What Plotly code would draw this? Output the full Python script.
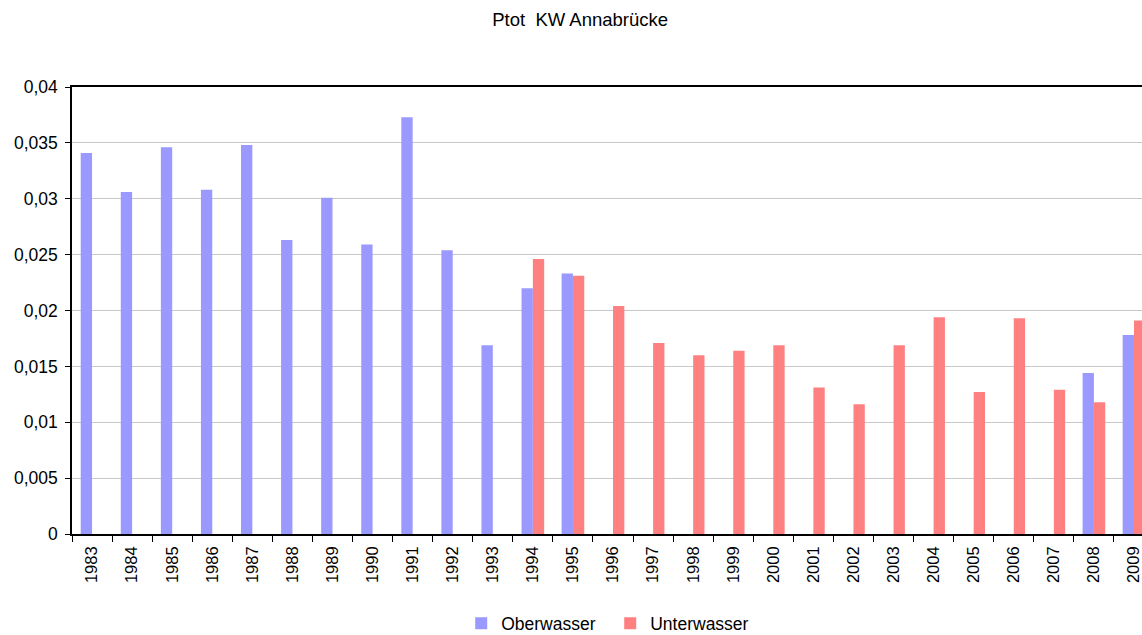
import plotly.graph_objects as go

years = [str(y) for y in range(1983, 2010)]

oberwasser = [0.0341, 0.0306, 0.0346, 0.0308, 0.0348, 0.0263, 0.0301, 0.0259,
              0.0373, 0.0254, 0.0169, 0.0220, 0.0233,
              None, None, None, None, None, None, None, None, None, None, None, None,
              0.0144, 0.0178]

unterwasser = [None, None, None, None, None, None, None, None, None, None, None,
               0.0246, 0.0231, 0.0204, 0.0171, 0.0160, 0.0164, 0.0169, 0.0131,
               0.0116, 0.0169, 0.0194, 0.0127, 0.0193, 0.0129, 0.0118, 0.0191]

y_ticks = [0, 0.005, 0.01, 0.015, 0.02, 0.025, 0.03, 0.035, 0.04]
y_tick_labels = ["0", "0,005", "0,01", "0,015", "0,02", "0,025", "0,03", "0,035", "0,04"]

FONT = "Liberation Sans, Arial, sans-serif"

fig = go.Figure()
fig.add_trace(go.Bar(name="Oberwasser", x=years, y=oberwasser,
                     marker=dict(color="#9999FF", line=dict(width=0))))
fig.add_trace(go.Bar(name="Unterwasser", x=years, y=unterwasser,
                     marker=dict(color="#FF8080", line=dict(width=0))))

fig.update_layout(
    width=1142, height=635,
    margin=dict(l=72, r=0, t=87, b=101, autoexpand=False),
    paper_bgcolor="white", plot_bgcolor="white",
    font=dict(family=FONT, color="black", size=16),
    title=dict(text="Ptot \u00a0KW Annabrücke", x=0.508, xanchor="center",
               y=1 - 20 / 635, yanchor="middle",
               font=dict(family=FONT, size=18.5, color="black")),
    barmode="group", bargap=0.435, bargroupgap=0,
    showlegend=True,
    legend=dict(orientation="h", x=0.503, xanchor="center",
                y=-0.2, yanchor="middle", itemwidth=30,
                entrywidth=104, entrywidthmode="pixels",
                font=dict(family=FONT, size=17.5, color="black"),
                traceorder="normal"),
    xaxis=dict(
        type="category", range=[-0.5, 26.2], automargin=False,
        tickson="boundaries", ticks="outside", ticklen=6, tickcolor="black",
        tickangle=-90, showline=True, linecolor="black", linewidth=1.5,
        mirror=True, showgrid=False, ticklabelstandoff=4,
        tickfont=dict(family=FONT, size=16.5, color="black"),
    ),
    yaxis=dict(
        range=[0, 0.04], tickvals=y_ticks, ticktext=y_tick_labels,
        automargin=False,
        ticks="outside", ticklen=5, tickcolor="black",
        showline=True, linecolor="black", linewidth=1.5,
        showgrid=True, gridcolor="#C8C8C8", gridwidth=1,
        zeroline=False, ticklabelstandoff=4,
        tickfont=dict(family=FONT, size=17.5, color="black"),
    ),
)

fig.write_html("out.html")
